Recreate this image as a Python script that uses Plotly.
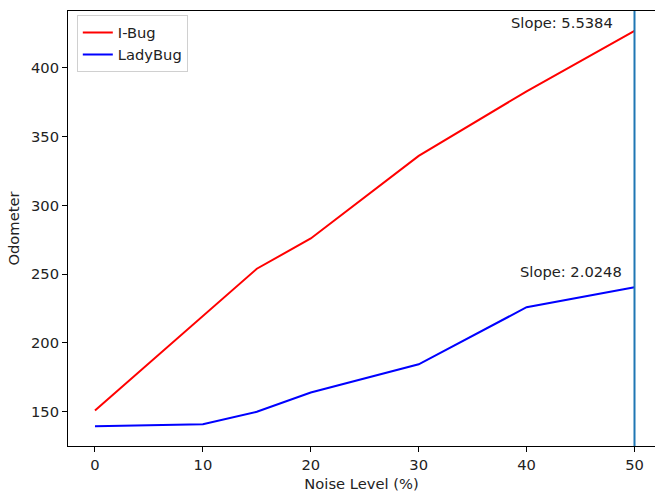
import plotly.graph_objects as go

noise = [0, 10, 15, 20, 30, 40, 50]
ibug = [151, 220, 254, 276, 336, 383, 427]
ladybug = [139.5, 141, 150, 164, 184.5, 226, 240.5]
slope_labels = ["Slope: 5.5384", "Slope: 2.0248"]
xticks = [0, 10, 20, 30, 40, 50]
yticks = [150, 200, 250, 300, 350, 400]

FS = 14.7
fig = go.Figure()
fig.add_trace(go.Scatter(x=noise, y=ibug, mode="lines", name="I-Bug",
                         line=dict(color="red", width=2)))
fig.add_trace(go.Scatter(x=noise, y=ladybug, mode="lines", name="LadyBug",
                         line=dict(color="blue", width=2)))
fig.add_vline(x=50, line=dict(color="#1f77b4", width=2))

fig.add_annotation(x=43.3, y=432.8, text=slope_labels[0], showarrow=False,
                   xanchor="center", yanchor="middle", font=dict(size=FS, color="#222"))
fig.add_annotation(x=44.1, y=252, text=slope_labels[1], showarrow=False,
                   xanchor="center", yanchor="middle", font=dict(size=FS, color="#222"))

fig.update_layout(
    width=655, height=493,
    margin=dict(l=68, r=0, t=11, b=47),
    paper_bgcolor="white", plot_bgcolor="white",
    font=dict(family="DejaVu Sans", size=FS, color="black"),
    showlegend=True,
    legend=dict(x=0.015, y=0.99, xanchor="left", yanchor="top",
                bgcolor="rgba(255,255,255,0.8)", bordercolor="#d0d0d0", borderwidth=1,
                itemwidth=30, tracegroupgap=0,
                font=dict(size=FS, color="#222")),
    xaxis=dict(range=[-2.5, 51.9], tickvals=xticks, showgrid=False, zeroline=False,
               showline=True, linecolor="black", linewidth=1, mirror=True,
               ticks="outside", ticklen=5, tickcolor="black",
               tickfont=dict(size=FS, color="#222"),
               title=dict(text="Noise Level (%)", font=dict(size=FS, color="#222"), standoff=7)),
    yaxis=dict(range=[125.1, 441.4], tickvals=yticks, showgrid=False, zeroline=False,
               showline=True, linecolor="black", linewidth=1,
               ticks="outside", ticklen=5, tickcolor="black",
               tickfont=dict(size=FS, color="#222"),
               title=dict(text="Odometer", font=dict(size=FS, color="#222"), standoff=7)),
)

fig.write_html("out.html")
